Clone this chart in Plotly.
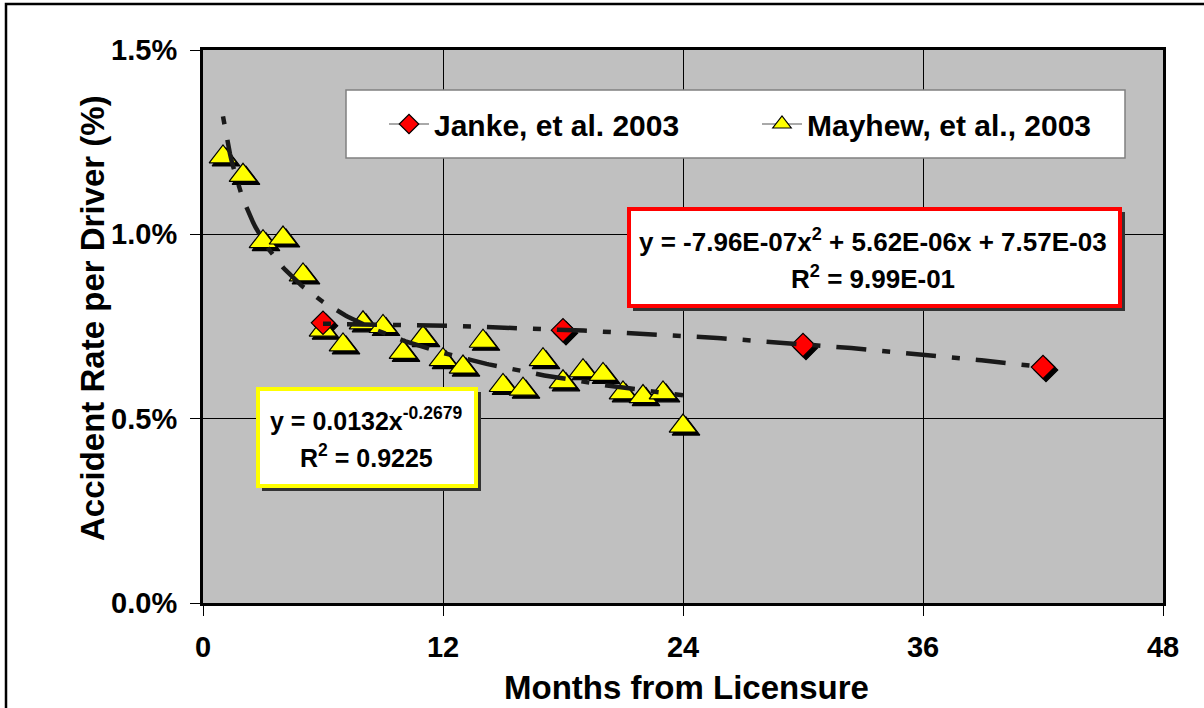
import numpy as np
import plotly.graph_objects as go

# ---------------- data ----------------
janke_months = [6, 18, 30, 42]
janke_rate = [0.76, 0.74, 0.70, 0.64]          # accident rate per driver, %

mayhew_months = [1, 2, 3, 4, 5, 6, 7, 8, 9, 10, 11, 12,
                 13, 14, 15, 16, 17, 18, 19, 20, 21, 22, 23, 24]
mayhew_rate = [1.21, 1.16, 0.98, 0.99, 0.89, 0.74, 0.70, 0.76, 0.75, 0.68, 0.72, 0.66,
               0.64, 0.71, 0.59, 0.58, 0.66, 0.60, 0.63, 0.62, 0.57, 0.56, 0.57, 0.48]

# trendline coefficients as printed on the chart (fractions, not %)
quad_a, quad_b, quad_c = -7.96e-07, 5.62e-06, 7.57e-03
pow_a, pow_b = 0.0132, -0.2679

x_ticks = [0, 12, 24, 36, 48]
y_ticks = [0.0, 0.5, 1.0, 1.5]

quad_text = ["y = -7.96E-07x<sup>2</sup> + 5.62E-06x + 7.57E-03", "R<sup>2</sup> = 9.99E-01"]
pow_text = ["y = 0.0132x<sup>-0.2679</sup>", "R<sup>2</sup> = 0.9225"]

# ---------------- layout helpers ----------------
W, H = 1204, 708
PL, PR, PT, PB = 203, 1163, 50, 603


def px(x):
    return (x - PL) / (PR - PL)


def py(y):
    return (PB - y) / (PB - PT)


FONT = "Liberation Sans, Arial, sans-serif"

TRI_SIZE = 24
DIA_SIZE = 18

# marker shadow offset (pixels -> data units)
sdx = 3 * 48 / (PR - PL)
sdy = -3 * 1.5 / (PB - PT)

fig = go.Figure()

# shadows
fig.add_trace(go.Scatter(x=[m + sdx for m in mayhew_months], y=[r + sdy for r in mayhew_rate],
                         mode="markers", showlegend=False, hoverinfo="skip",
                         marker=dict(symbol="triangle-up", size=TRI_SIZE, color="black",
                                     line=dict(color="black", width=1.2))))
fig.add_trace(go.Scatter(x=[m + sdx for m in janke_months], y=[r + sdy for r in janke_rate],
                         mode="markers", showlegend=False, hoverinfo="skip",
                         marker=dict(symbol="diamond", size=DIA_SIZE, color="black",
                                     line=dict(color="black", width=1.2))))

# data
fig.add_trace(go.Scatter(x=mayhew_months, y=mayhew_rate, mode="markers", showlegend=False,
                         marker=dict(symbol="triangle-up", size=TRI_SIZE, color="#FFFF00",
                                     line=dict(color="black", width=1.2))))
fig.add_trace(go.Scatter(x=janke_months, y=janke_rate, mode="markers", showlegend=False,
                         marker=dict(symbol="diamond", size=DIA_SIZE, color="#FF0000",
                                     line=dict(color="black", width=1.2))))

# trendlines (from the printed fit equations)
xp = np.linspace(mayhew_months[0], mayhew_months[-1], 200)
fig.add_trace(go.Scatter(x=xp, y=100 * pow_a * xp ** pow_b, mode="lines", showlegend=False,
                         hoverinfo="skip",
                         line=dict(color="#1a1a1a", width=4.5, dash="8px,16px,30px,16px")))
xq = np.linspace(janke_months[0], janke_months[-1], 200)
fig.add_trace(go.Scatter(x=xq, y=100 * (quad_a * xq ** 2 + quad_b * xq + quad_c), mode="lines",
                         showlegend=False, hoverinfo="skip",
                         line=dict(color="#1a1a1a", width=4.5, dash="8px,16px,30px,16px")))

# legend entries
fig.add_trace(go.Scatter(x=[None], y=[None], mode="lines+markers", name="Janke, et al. 2003",
                         line=dict(color="#8C8C8C", width=1.5),
                         marker=dict(symbol="diamond", size=15, color="#FF0000",
                                     line=dict(color="black", width=1.2))))
fig.add_trace(go.Scatter(x=[None], y=[None], mode="lines+markers", name="Mayhew, et al., 2003",
                         line=dict(color="#8C8C8C", width=1.5),
                         marker=dict(symbol="triangle-up", size=16, color="#FFFF00",
                                     line=dict(color="black", width=1.2))))

axis_common = dict(showline=True, linecolor="black", linewidth=3, mirror=True,
                   ticks="outside", ticklen=10, tickwidth=1, tickcolor="black",
                   showgrid=True, gridcolor="black", gridwidth=1, zeroline=False,
                   tickfont=dict(family=FONT, size=29, color="black", weight="bold"))

fig.update_xaxes(range=[0, 48], tickvals=x_ticks, ticktext=[str(v) for v in x_ticks],
                 ticklabelstandoff=6, **axis_common)
fig.update_yaxes(range=[0, 1.5], tickvals=y_ticks, ticktext=[f"{v:.1f}%" for v in y_ticks],
                 ticklabelstandoff=7, **axis_common)

shapes = [
    # outer frame
    dict(type="rect", xref="paper", yref="paper", x0=px(6), x1=px(1300), y0=py(800), y1=py(4),
         line=dict(color="black", width=2.5), fillcolor="rgba(0,0,0,0)", layer="above"),
    # legend box
    dict(type="rect", xref="paper", yref="paper", x0=px(346), x1=px(1125), y0=py(158), y1=py(90),
         line=dict(color="#808080", width=1.5), fillcolor="white", layer="above"),
    # red box shadow + box
    dict(type="rect", xref="paper", yref="paper", x0=px(633), x1=px(1125), y0=py(311), y1=py(212),
         line=dict(width=0), fillcolor="#333333", layer="above"),
    dict(type="rect", xref="paper", yref="paper", x0=px(629), x1=px(1120), y0=py(306), y1=py(209),
         line=dict(color="#FF0000", width=4), fillcolor="white", layer="above"),
    # yellow box shadow + box
    dict(type="rect", xref="paper", yref="paper", x0=px(262), x1=px(481), y0=py(491), y1=py(392),
         line=dict(width=0), fillcolor="#333333", layer="above"),
    dict(type="rect", xref="paper", yref="paper", x0=px(258), x1=px(476), y0=py(486), y1=py(389),
         line=dict(color="#FFFF00", width=4), fillcolor="white", layer="above"),
]

eq_font = dict(family=FONT, size=25, color="black", weight="bold")
annotations = [
    dict(text=quad_text[0], x=px(873), y=py(240), xref="paper", yref="paper",
         showarrow=False, xanchor="center", yanchor="middle", font=dict(eq_font, size=26)),
    dict(text=quad_text[1], x=px(873), y=py(277), xref="paper", yref="paper",
         showarrow=False, xanchor="center", yanchor="middle", font=dict(eq_font, size=26)),
    dict(text=pow_text[0], x=px(366), y=py(419), xref="paper", yref="paper",
         showarrow=False, xanchor="center", yanchor="middle", font=eq_font),
    dict(text=pow_text[1], x=px(366), y=py(456), xref="paper", yref="paper",
         showarrow=False, xanchor="center", yanchor="middle", font=eq_font),
    # axis titles
    dict(text="Months from Licensure", x=px(686), y=py(687), xref="paper", yref="paper",
         showarrow=False, xanchor="center", yanchor="middle",
         font=dict(family=FONT, size=33, color="black", weight="bold")),
    dict(text="Accident Rate per Driver (%)", x=px(92), y=py(318), xref="paper", yref="paper",
         showarrow=False, xanchor="center", yanchor="middle", textangle=-90,
         font=dict(family=FONT, size=33, color="black", weight="bold")),
]

fig.update_layout(
    width=W, height=H,
    margin=dict(l=PL, r=W - PR, t=PT, b=H - PB, autoexpand=False),
    paper_bgcolor="white", plot_bgcolor="#C0C0C0",
    shapes=shapes, annotations=annotations,
    showlegend=True,
    legend=dict(orientation="h", x=px(384), xanchor="left", y=py(124), yanchor="middle",
                bgcolor="rgba(0,0,0,0)", borderwidth=0, itemwidth=40,
                entrywidth=318, entrywidthmode="pixels",
                font=dict(family=FONT, size=30, color="black", weight="bold")),
)

fig.write_html("out.html")
